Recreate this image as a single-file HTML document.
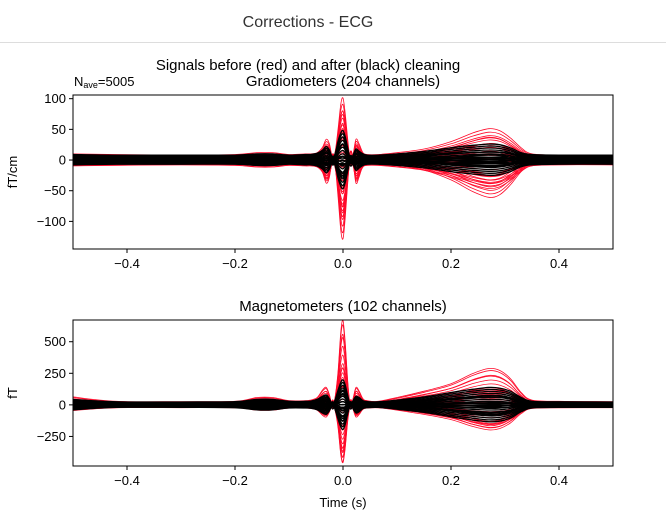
<!DOCTYPE html>
<html><head><meta charset="utf-8"><style>
body{margin:0;background:#fff;font-family:"Liberation Sans","DejaVu Sans",sans-serif;}
#wrap{position:relative;width:666px;height:526px;overflow:hidden;}
</style></head><body>
<div id="wrap">
<svg id="svg" width="666" height="526" xmlns="http://www.w3.org/2000/svg">
<text x="308" y="27" text-anchor="middle" font-size="16" fill="#333">Corrections - ECG</text>
<line x1="0" y1="42.5" x2="666" y2="42.5" stroke="#ddd"/>
<text x="308" y="70" text-anchor="middle" font-size="15" fill="#000">Signals before (red) and after (black) cleaning</text>
<text x="74" y="86" font-size="13" fill="#000">N<tspan font-size="9" dy="2">ave</tspan><tspan dy="-2">=5005</tspan></text>
<g id="g1"></g><g id="g2"></g>
<text x="343" y="507" text-anchor="middle" font-size="13">Time (s)</text>
</svg></div>
<script>
const xTicks=[-0.4,-0.2,0.0,0.2,0.4];
const times=[-0.5,-0.42,-0.3,-0.2,-0.16,-0.13,-0.1,-0.07,-0.06,-0.048,-0.038,-0.031,-0.025,-0.019,-0.014,-0.009,-0.004,0,0.004,0.009,0.014,0.019,0.024,0.03,0.037,0.045,0.065,0.1,0.15,0.2,0.24,0.27,0.29,0.31,0.33,0.35,0.4,0.5];
const gradRed=[4,3,2,3,6,6,3,4,4,6,15,28,20,-5,10,45,85,95,70,25,-10,5,28,20,6,3,3,6,12,24,38,45,42,30,14,4,2,2];
const gradBlack=[3,2,2,2,4,4,2,3,3,5,10,16,10,-3,6,25,38,42,32,12,-5,3,12,8,4,2,2,4,8,14,18,20,19,14,6,3,2,2];
const magRed=[45,10,8,10,40,40,15,15,20,40,100,120,60,-40,60,250,560,650,480,150,-40,40,120,90,30,15,10,40,90,150,230,270,255,190,80,20,10,8];
const magBlack=[25,6,5,8,25,25,10,10,12,25,50,60,30,-20,30,100,160,180,140,50,-20,20,50,40,15,8,6,20,45,80,105,120,115,90,40,10,6,5];
const gradGainsRed=[1,0.9,0.8,0.75,0.7,0.6,0.55,0.5,0.4,0.3,0.2,0.1,0.05,-0.05,-0.15,-0.25,-0.35,-0.45,-0.55,-0.65,-0.75,-0.8,-0.85,-0.95,-1.05,-1.15,-1.25,-1.35,0.85,0.65,-0.5,-0.7,-0.9,0.45,0.35,-0.3,-0.6];
const magGainsRed=[1,0.95,0.8,0.7,0.6,0.5,0.45,0.4,0.35,0.3,0.25,0.2,0.1,0.05,-0.05,-0.1,-0.2,-0.3,-0.35,-0.4,-0.45,-0.5,-0.55,-0.6,-0.65,-0.7,0.85,0.45,-0.25,-0.55,-0.62,-0.68];
const gainsBlack=[1,0.9,0.8,0.7,0.6,0.5,0.4,0.3,0.2,0.1,0,-0.1,-0.2,-0.3,-0.4,-0.5,-0.6,-0.7,-0.8,-0.9,-1,0.75,0.35,-0.35,-0.75,0.55,-0.55,0.15,-0.15];
const offsets=[1,0.8,0.6,0.4,0.2,0,-0.2,-0.4,-0.6,-0.8,-1];
const gradTicks=[100,50,0,-50,-100];
const magTicks=[500,250,0,-250];
const NS="http://www.w3.org/2000/svg";
function mk(tag,at,parent){const e=document.createElementNS(NS,tag);for(const k in at)e.setAttribute(k,at[k]);parent.appendChild(e);return e;}
function smooth(p){let d='M'+p[0][0].toFixed(1)+','+p[0][1].toFixed(1);
  for(let i=0;i<p.length-1;i++){const p0=p[i-1]||p[i],p1=p[i],p2=p[i+1],p3=p[i+2]||p2;
    const c1=[p1[0]+(p2[0]-p0[0])/6,p1[1]+(p2[1]-p0[1])/6],c2=[p2[0]-(p3[0]-p1[0])/6,p2[1]-(p3[1]-p1[1])/6];
    d+='C'+c1[0].toFixed(1)+','+c1[1].toFixed(1)+' '+c2[0].toFixed(1)+','+c2[1].toFixed(1)+' '+p2[0].toFixed(1)+','+p2[1].toFixed(1);}
  return d;}
function panel(g,top,bot,ymin,ymax,title,ylab,yTicks,red,black,gr,off,name){
  const L=73,R=613;
  const X=t=>L+(t+0.5)/1*(R-L);
  const Y=v=>bot-(v-ymin)/(ymax-ymin)*(bot-top);
  const t=mk('text',{x:343,y:top-9,'text-anchor':'middle','font-size':15},g);t.textContent=title;
  
  
  const clip=mk('clipPath',{id:'c'+name},g);mk('rect',{x:L,y:top,width:R-L,height:bot-top},clip);
  const lines=mk('g',{'clip-path':'url(#c'+name+')'},g);
  
  
  function draw(tpl,gains,col,w){gains.forEach((gn,i)=>{
    const o=offsets[i%offsets.length]*off;
    const pts=times.map((tt,j)=>[X(tt),Y(tpl[j]*gn+o)]);
    const p=mk('path',{d:smooth(pts),fill:'none',stroke:col,'stroke-width':w},lines);
    
    
  });}
  draw(red,gr,'#ff0a2a',0.8);
  draw(black,gainsBlack,'#000',1.3);
  const fr=mk('rect',{x:L,y:top,width:R-L,height:bot-top,fill:'none',stroke:'#000','stroke-width':1},g);
  
  
  yTicks.forEach(v=>{const y=Y(v);mk('line',{x1:L-4,x2:L,y1:y,y2:y,stroke:'#000'},g);
    const tx=mk('text',{x:L-7,y:y+4.5,'text-anchor':'end','font-size':13},g);tx.textContent=(v<0?'\u2212'+(-v):v);
    
    });
  xTicks.forEach(v=>{const x=X(v);mk('line',{x1:x,x2:x,y1:bot,y2:bot+4,stroke:'#000'},g);
    const tx=mk('text',{x:x,y:bot+19,'text-anchor':'middle','font-size':13},g);tx.textContent=(v<0?'\u2212'+(-v).toFixed(1):v.toFixed(1));
    
    });
  const yl=mk('text',{x:0,y:0,'text-anchor':'middle','font-size':13,transform:'translate(17,'+((top+bot)/2)+') rotate(-90)'},g);yl.textContent=ylab;
  
  
}
panel(document.getElementById('g1'),95,249,-145,106,'Gradiometers (204 channels)','fT/cm',gradTicks,gradRed,gradBlack,gradGainsRed,6,'grad');
panel(document.getElementById('g2'),320,466,-484,672,'Magnetometers (102 channels)','fT',magTicks,magRed,magBlack,magGainsRed,18,'mag');
</script>
</body></html>
